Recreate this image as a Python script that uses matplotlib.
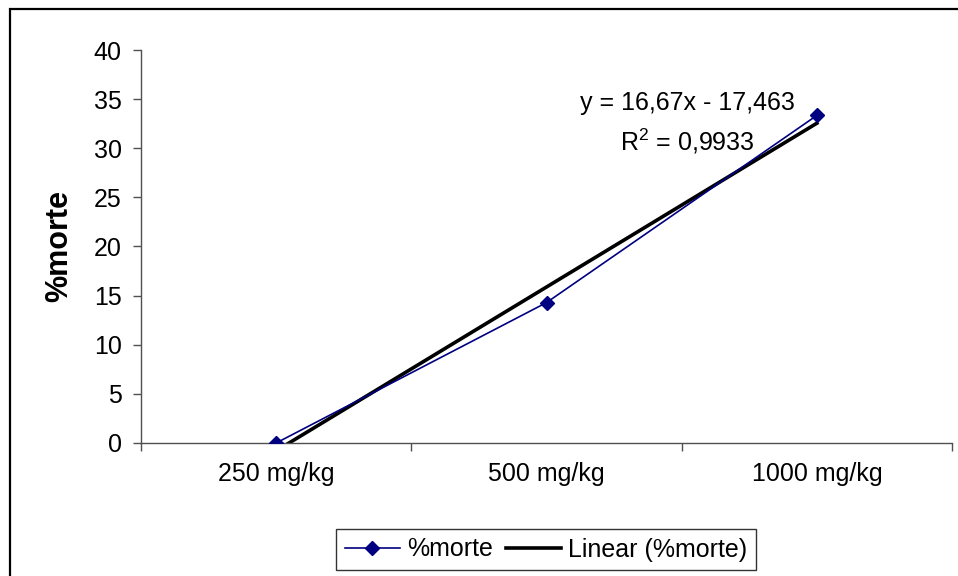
import numpy as np
import matplotlib

matplotlib.use("Agg")

from matplotlib import pyplot as plt
from matplotlib.patches import Rectangle

plt.rcParams["font.family"] = ["Liberation Sans", "DejaVu Sans"]
plt.rcParams["mathtext.fontset"] = "custom"
plt.rcParams["mathtext.rm"] = "Liberation Sans"

doses = ["250 mg/kg", "500 mg/kg", "1000 mg/kg"]
morte = [0.0, 14.29, 33.34]
yticks = [0, 5, 10, 15, 20, 25, 30, 35, 40]

W, H = 958., 576.
fig = plt.figure(figsize=(W / 100, H / 100), dpi=100)

# axes box in pixels: left 141, right 952, top 50, bottom 443
ax = fig.add_axes([141 / W, 1 - 443 / H, (952 - 141) / W, (443 - 50) / H])

x = np.arange(1, len(doses) + 1)
ax.plot(x, morte, color="#000080", lw=1.2, marker="D", markersize=7.5,
        label="%morte", zorder=3)

# linear trend over the category index
slope, intercept = np.polyfit(x, morte, 1)
fit = slope * x + intercept
ax.plot(x, fit, color="black", lw=2.6, label="Linear (%morte)", zorder=2)

ss_res = np.sum((np.array(morte) - fit) ** 2)
ss_tot = np.sum((np.array(morte) - np.mean(morte)) ** 2)
r2 = 1 - ss_res / ss_tot

ax.set_xlim(0.5, len(doses) + 0.5)
ax.set_ylim(0, 40)
ax.set_yticks(yticks)
ax.set_xticks(x)
ax.set_xticklabels(doses)
ax.set_xticks(np.arange(0.5, len(doses) + 1), minor=True)

for s in ("top", "right"):
    ax.spines[s].set_visible(False)
for s in ("left", "bottom"):
    ax.spines[s].set_color("#505050")
    ax.spines[s].set_linewidth(1.0)

ax.tick_params(axis="x", which="major", length=0, pad=14, labelsize=18)
ax.tick_params(axis="x", which="minor", length=6, width=1.0, color="#505050", direction="out")
ax.tick_params(axis="y", length=6, width=1.0, color="#505050", direction="out", pad=8, labelsize=18)

ax.set_ylabel("%morte", fontsize=22, fontweight="bold", labelpad=14)

fig.text(687 / W, 1 - 103 / H,
         "y = {:.2f}x - {:.3f}".format(slope, -intercept).replace(".", ","),
         ha="center", va="center", fontsize=18)
fig.text(687 / W, 1 - 141 / H, "R$^2$ = {:.4f}".format(r2).replace(".", ","),
         ha="center", va="center", fontsize=18)

leg = fig.legend(loc="center", bbox_to_anchor=(546 / W, 1 - 549.5 / H), ncol=2,
                 fontsize=18, frameon=True, fancybox=False, handlelength=2.2,
                 handletextpad=0.3, columnspacing=0.5, borderpad=0.35,
                 borderaxespad=0)
leg.get_frame().set_edgecolor("black")
leg.get_frame().set_linewidth(1.0)

# chart area border
fig.add_artist(Rectangle((10 / W, -0.1), 1.0, 1.1 - 9 / H, transform=fig.transFigure,
                         fill=False, edgecolor="black", lw=1.6))

plt.savefig("out.png", dpi=100)
